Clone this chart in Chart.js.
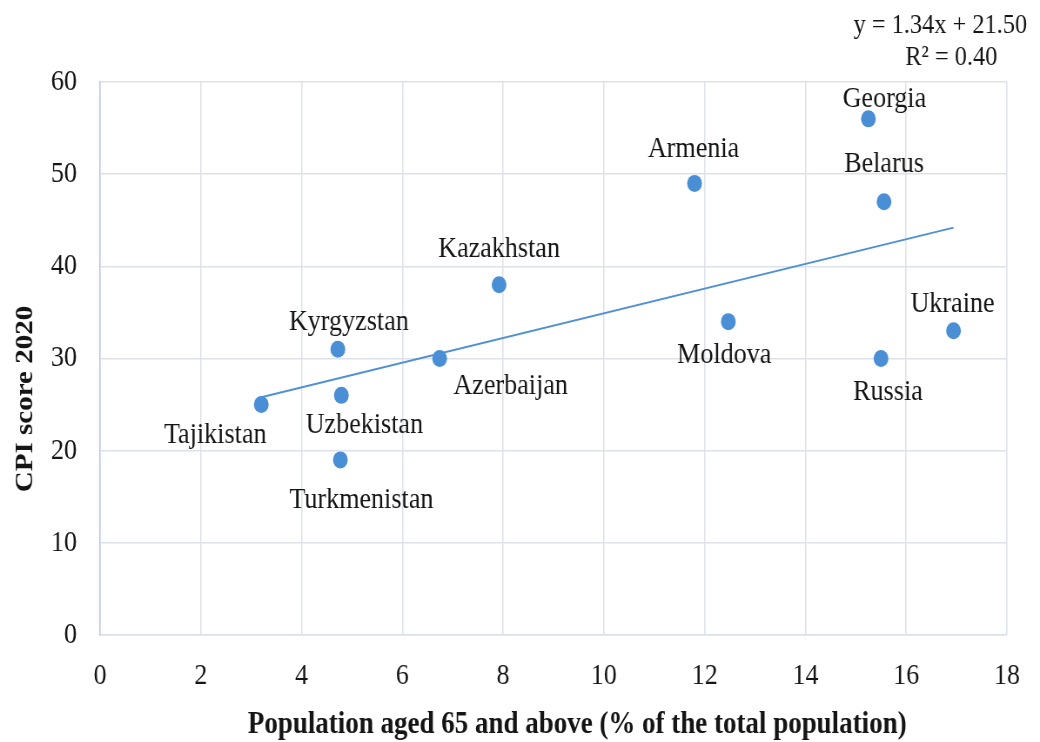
<!DOCTYPE html>
<html>
<head>
<meta charset="utf-8">
<script src="https://cdn.jsdelivr.net/npm/chart.js@4.4.1/dist/chart.umd.min.js"></script>
<style>
  html, body { margin: 0; padding: 0; background: #ffffff; overflow: hidden; }
  #wrap { width: 1040px; height: 742px; position: relative; overflow: hidden; }
  /* the chart is laid out wider and narrowed horizontally, giving the tall, condensed type */
  #chart { position: absolute; left: 0; top: 0; transform-origin: 0 0; }
</style>
</head>
<body>
<div id="wrap"><canvas id="chart"></canvas></div>
<script>
// Countries of the region, share of population aged 65+ (%) and CPI score 2020
const countries = ['Tajikistan', 'Kyrgyzstan', 'Uzbekistan', 'Turkmenistan', 'Azerbaijan', 'Kazakhstan',
                   'Armenia', 'Moldova', 'Georgia', 'Belarus', 'Russia', 'Ukraine'];
const popAged65 = [3.20, 4.72, 4.79, 4.77, 6.74, 7.92, 11.80, 12.47, 15.25, 15.56, 15.50, 16.94];
const cpiScore  = [25, 31, 26, 19, 30, 38, 49, 34, 56, 47, 30, 33];

// Linear trend stated on the chart
const trendSlope = 1.34;
const trendIntercept = 21.50;
const trendR2 = 0.40;

// Axis ranges and tick steps
const xRange = [0, 18];
const xStep = 2;
const yRange = [0, 60];
const yStep = 10;

// Where each country's name sits relative to its point (screen px: dx of centre, dy of baseline)
const labelOffsets = {
  Tajikistan:   [-46, 38],
  Kyrgyzstan:   [11, -19],
  Uzbekistan:   [23, 38],
  Turkmenistan: [21, 48],
  Azerbaijan:   [71, 35],
  Kazakhstan:   [0, -28],
  Armenia:      [-1, -26],
  Moldova:      [-4, 41],
  Georgia:      [16, -12],
  Belarus:      [0, -30],
  Russia:       [7, 41],
  Ukraine:      [-1, -19]
};

// Page size and horizontal narrowing of the drawing
const PAGE_W = 1040, PAGE_H = 742;
const SQUEEZE = 0.87;
const CANVAS_W = Math.round(PAGE_W / SQUEEZE);
const sx = v => v / SQUEEZE;   // screen x -> canvas x

const SERIF = '"Liberation Serif", "Times New Roman", "DejaVu Serif", serif';
const TEXT = '#151515';
const DOT = '#4a8fd6';
const GRID = '#dde2ea';

const canvas = document.getElementById('chart');
canvas.width = CANVAS_W;
canvas.height = PAGE_H;
canvas.style.transform = 'scaleX(' + (PAGE_W / CANVAS_W) + ')';

const points = popAged65.map((x, i) => ({ x: x, y: cpiScore[i] }));
const xMin = Math.min(...popAged65);
const xMax = Math.max(...popAged65);
const trend = [xMin, xMax].map(x => ({ x: x, y: trendSlope * x + trendIntercept }));

const annotate = {
  id: 'annotate',
  afterDatasetsDraw(chart) {
    const ctx = chart.ctx;
    const meta = chart.getDatasetMeta(0);
    ctx.save();
    ctx.fillStyle = TEXT;

    // country names
    ctx.font = '30px ' + SERIF;
    ctx.textAlign = 'center';
    ctx.textBaseline = 'alphabetic';
    meta.data.forEach((pt, i) => {
      const off = labelOffsets[countries[i]] || [0, -20];
      ctx.fillText(countries[i], pt.x + sx(off[0]), pt.y + off[1]);
    });

    // trend equation
    ctx.font = '28px ' + SERIF;
    ctx.fillText('y = ' + trendSlope.toFixed(2) + 'x + ' + trendIntercept.toFixed(2), sx(940), 33);
    ctx.fillText('R\u00B2 = ' + trendR2.toFixed(2), sx(951), 65);

    // axis titles
    ctx.font = 'bold 31px ' + SERIF;
    ctx.fillText('Population aged 65 and above (% of the total population)', sx(577), 733);

    ctx.translate(sx(32), 399);
    ctx.rotate(-Math.PI / 2);
    ctx.font = 'bold 29px ' + SERIF;
    ctx.fillText('CPI score 2020', 0, 0);
    ctx.restore();
  }
};

new Chart(canvas, {
  type: 'scatter',
  data: {
    datasets: [
      {
        label: 'CPI score 2020',
        data: points,
        backgroundColor: DOT,
        borderColor: DOT,
        pointRadius: 8.5,
        pointBorderWidth: 0,
        order: 1
      },
      {
        type: 'line',
        label: 'Linear trend',
        data: trend,
        borderColor: '#4f90d4',
        borderWidth: 2,
        pointRadius: 0,
        fill: false,
        tension: 0,
        order: 2
      }
    ]
  },
  options: {
    responsive: false,
    animation: false,
    events: [],
    layout: { padding: { top: 82, right: 28, left: 0, bottom: 0 } },
    plugins: { legend: { display: false }, tooltip: { enabled: false } },
    scales: {
      x: {
        type: 'linear',
        min: xRange[0],
        max: xRange[1],
        afterFit(scale) { scale.height = 107; },
        ticks: {
          stepSize: xStep,
          padding: 23,
          color: TEXT,
          font: { family: SERIF, size: 30 }
        },
        grid: { color: GRID, lineWidth: 1.5, drawTicks: false, tickLength: 0 },
        border: { color: GRID, width: 1.5 }
      },
      y: {
        type: 'linear',
        min: yRange[0],
        max: yRange[1],
        afterFit(scale) { scale.width = sx(100); },
        ticks: {
          stepSize: yStep,
          padding: sx(23),
          color: TEXT,
          font: { family: SERIF, size: 30 }
        },
        grid: { color: GRID, lineWidth: 1.5, drawTicks: false, tickLength: 0 },
        border: { color: '#bccbe3', width: 1.5 }
      }
    }
  },
  plugins: [annotate]
});
</script>
</body>
</html>
